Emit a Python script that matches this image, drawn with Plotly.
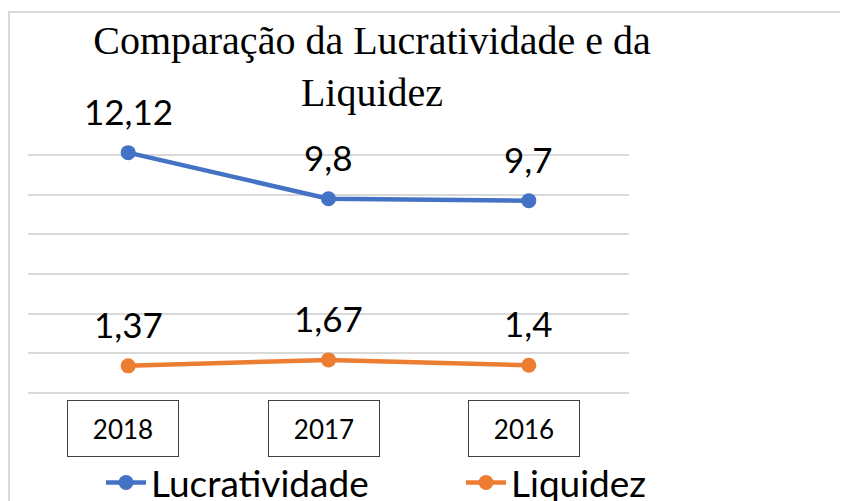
import plotly.graph_objects as go

categories = ["2018", "2017", "2016"]
lucratividade = [12.12, 9.8, 9.7]
liquidez = [1.37, 1.67, 1.4]
series_names = ["Lucratividade", "Liquidez"]
series_colors = ["#4472C4", "#ED7D31"]
title_text = "Comparação da Lucratividade e da<br>Liquidez"

W, H = 840, 493  # page body adds an 8px margin


def fmt(v):
    return f"{v:g}".replace(".", ",")


fig = go.Figure()
for k, (name, vals, color) in enumerate(zip(series_names, [lucratividade, liquidez], series_colors)):
    fig.add_trace(go.Scatter(
        x=categories, y=vals, mode="lines+markers", name=name,
        line=dict(color=color, width=4.5),
        marker=dict(color=color, size=15),
        legend="legend" if k == 0 else "legend2",
    ))

annotations = []
for vals in [lucratividade, liquidez]:
    for i, v in enumerate(vals):
        annotations.append(dict(
            x=i, y=v, xref="x", yref="y", text=fmt(v), showarrow=False,
            yshift=42, yanchor="middle",
            font=dict(family="Lato", size=35, color="#000000"),
        ))
for i, c in enumerate(categories):
    annotations.append(dict(
        x=i, y=0, xref="x", yref="y", text=c, showarrow=False,
        yshift=-35, yanchor="middle", xshift=-5,
        width=106, height=51, borderpad=2,
        bordercolor="#404040", borderwidth=1,
        font=dict(family="Lato", size=26, color="#000000"),
    ))

legend_style = dict(orientation="h", xref="container", yref="container",
                    xanchor="left", y=1 - 475 / H, yanchor="middle",
                    font=dict(family="Lato", size=37, color="#000000"),
                    itemwidth=40, bgcolor="rgba(0,0,0,0)")

fig.update_layout(
    width=W, height=H,
    margin=dict(l=20, r=219, t=107, b=108),
    paper_bgcolor="white", plot_bgcolor="white",
    title=dict(text=title_text, x=364 / W, xanchor="center", y=1 - 46 / H, yanchor="top",
               font=dict(family="Liberation Serif", size=40, color="#000000")),
    xaxis=dict(type="category", range=[-0.5, 2.5], showticklabels=False, showgrid=False,
               zeroline=False, showline=False),
    yaxis=dict(range=[0, 14.02], dtick=2, showticklabels=False, showgrid=True,
               gridcolor="#D9D9D9", gridwidth=2, zeroline=True, zerolinecolor="#D9D9D9",
               zerolinewidth=2, showline=False),
    showlegend=True,
    legend=dict(x=93 / W, **legend_style),
    legend2=dict(x=453 / W, **legend_style),
    annotations=annotations,
    shapes=[
        dict(type="line", xref="paper", yref="paper", x0=-20 / 601, x1=2.0, y0=381 / 278, y1=381 / 278,
             line=dict(color="#D9D9D9", width=2)),
        dict(type="line", xref="paper", yref="paper", x0=-19 / 601, x1=-19 / 601, y0=381 / 278, y1=-0.5,
             line=dict(color="#D9D9D9", width=2)),
    ],
)

fig.write_html("out.html")
